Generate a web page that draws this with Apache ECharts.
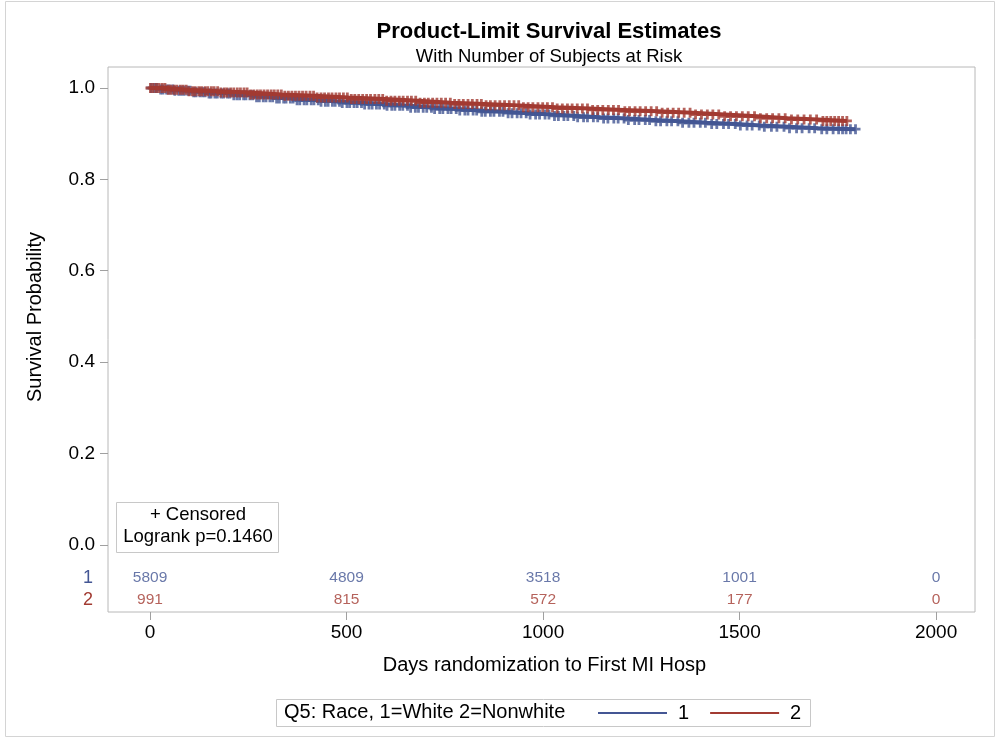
<!DOCTYPE html>
<html>
<head>
<meta charset="utf-8">
<script src="https://cdn.jsdelivr.net/npm/echarts@6/dist/echarts.min.js"></script>
<style>html,body{margin:0;padding:0;background:#fff}#c{width:999px;height:739px}</style>
</head>
<body>
<div id="c"></div>
<script>
// ---- data ----
const xTicks = [0, 500, 1000, 1500, 2000];
const yTicks = [0, 0.2, 0.4, 0.6, 0.8, 1.0];
const riskGroup1 = [5809, 4809, 3518, 1001, 0];
const riskGroup2 = [991, 815, 572, 177, 0];

const g1Times = [0, 25, 62, 105, 150, 205, 262, 318, 372, 430, 488, 545, 602, 660, 722, 780, 842, 905, 962, 1025, 1088, 1145, 1215, 1282, 1350, 1418, 1490, 1556, 1625, 1700, 1795];
const g1Surv  = [1.0, 0.997, 0.994, 0.991, 0.988, 0.984, 0.980, 0.977, 0.973, 0.970, 0.967, 0.964, 0.961, 0.957, 0.954, 0.951, 0.948, 0.945, 0.942, 0.939, 0.936, 0.933, 0.930, 0.927, 0.924, 0.921, 0.918, 0.915, 0.912, 0.910, 0.910];
const g2Times = [0, 40, 98, 175, 255, 335, 418, 505, 598, 682, 765, 852, 940, 1032, 1118, 1205, 1292, 1380, 1462, 1545, 1622, 1700, 1773];
const g2Surv  = [1.0, 0.996, 0.993, 0.990, 0.986, 0.983, 0.979, 0.976, 0.972, 0.968, 0.965, 0.962, 0.958, 0.955, 0.952, 0.949, 0.946, 0.942, 0.938, 0.934, 0.931, 0.928, 0.928];

const g1Censor = [3, 11, 17, 27, 33, 42, 49, 58, 63, 73, 80, 87, 96, 102, 111, 117, 127, 134, 140, 150, 155, 165, 171, 181, 187, 197, 203, 213, 221, 228, 238, 244, 254, 261, 271, 278, 288, 295, 305, 312, 322, 329, 340, 346, 357, 364, 374, 381, 392, 399, 410, 417, 428, 435, 446, 453, 464, 471, 482, 489, 501, 508, 519, 527, 538, 546, 557, 565, 576, 584, 596, 603, 615, 623, 635, 643, 655, 663, 675, 683, 695, 704, 716, 724, 737, 745, 758, 766, 779, 788, 801, 809, 822, 831, 844, 853, 866, 875, 889, 898, 911, 921, 934, 944, 957, 967, 981, 991, 1005, 1015, 1029, 1039, 1053, 1063, 1078, 1088, 1103, 1113, 1128, 1139, 1154, 1165, 1180, 1191, 1206, 1217, 1233, 1244, 1260, 1271, 1287, 1299, 1315, 1327, 1343, 1355, 1371, 1384, 1400, 1413, 1429, 1442, 1459, 1472, 1489, 1502, 1519, 1532, 1550, 1563, 1581, 1595, 1613, 1627, 1645, 1659, 1677, 1691, 1709, 1722, 1738, 1752, 1762, 1771, 1782, 1795];
const g2Censor = [1, 8, 16, 23, 31, 38, 46, 53, 61, 68, 77, 84, 92, 99, 108, 115, 124, 131, 140, 147, 156, 163, 172, 180, 189, 196, 205, 213, 222, 230, 239, 247, 256, 264, 273, 281, 290, 299, 308, 316, 325, 334, 343, 352, 361, 370, 379, 388, 397, 407, 416, 425, 435, 444, 454, 463, 473, 482, 492, 502, 512, 521, 531, 541, 551, 561, 572, 582, 592, 602, 613, 623, 634, 644, 655, 665, 676, 687, 698, 708, 719, 730, 741, 752, 764, 775, 786, 797, 809, 820, 832, 843, 855, 866, 878, 890, 902, 914, 926, 938, 950, 962, 974, 987, 999, 1011, 1024, 1036, 1049, 1062, 1074, 1087, 1100, 1113, 1126, 1139, 1152, 1166, 1179, 1192, 1208, 1220, 1234, 1247, 1261, 1275, 1289, 1303, 1317, 1331, 1345, 1359, 1374, 1388, 1403, 1418, 1432, 1447, 1462, 1477, 1492, 1507, 1522, 1538, 1553, 1569, 1584, 1600, 1616, 1632, 1648, 1664, 1680, 1696, 1712, 1722, 1732, 1742, 1752, 1762, 1773];

const riskRowY = [-0.072, -0.120];
// ---- end data ----

const BLUE = '#445694', RED = '#A23B32';
function survAt(times, surv, t) {
  let s = surv[0];
  for (let i = 0; i < times.length; i++) { if (times[i] <= t) s = surv[i]; else break; }
  return s;
}
const plus = 'path://M5,0L5,10M0,5L10,5';
const chart = echarts.init(document.getElementById('c'), null, {renderer: 'canvas'});
const font = 'Liberation Sans, Arial, sans-serif';

chart.setOption({
  animation: false,
  backgroundColor: '#fff',
  textStyle: {fontFamily: font},
  title: [
    {text: 'Product-Limit Survival Estimates', left: 544, top: 16, textAlign: 'center',
     textStyle: {fontSize: 22, fontWeight: 'bold', color: '#000', fontFamily: font}},
    {text: 'With Number of Subjects at Risk', left: 544, top: 42, textAlign: 'center',
     textStyle: {fontSize: 18.5, fontWeight: 'normal', color: '#000', fontFamily: font}}
  ],
  grid: {left: 108, right: 24, top: 67, bottom: 127, show: true, borderColor: '#b8b8b8', borderWidth: 1, backgroundColor: 'transparent', containLabel: false},
  legend: {
    data: [{name: '1', icon: 'rect'}, {name: '2', icon: 'rect'}], left: 598, top: 703, padding: 0,
    itemWidth: 69, itemHeight: 2, itemGap: 21,
    textStyle: {fontSize: 20, color: '#000', fontFamily: font, padding: [0, 0, 0, 6]},
    selectedMode: false
  },
  xAxis: {
    type: 'value', min: -107, max: 2099,
    name: 'Days randomization to First MI Hosp', nameLocation: 'middle', nameGap: 43,
    nameTextStyle: {fontSize: 20, color: '#000', fontFamily: font, padding: [0, 0, 0, 6]},
    axisLine: {show: false, onZero: false},
    axisTick: {show: true, customValues: xTicks, length: 8, lineStyle: {color: '#a0a0a0'}},
    axisLabel: {customValues: xTicks, fontSize: 19, color: '#000', margin: 11, fontFamily: font, formatter: v => String(v)},
    splitLine: {show: false}
  },
  yAxis: {
    type: 'value', min: -0.147, max: 1.046,
    name: 'Survival Probability', nameLocation: 'middle', nameGap: 63, nameRotate: 90,
    nameTextStyle: {fontSize: 20, color: '#000', fontFamily: font, padding: [0, 0, 0, 45]},
    axisLine: {show: false, onZero: false},
    axisTick: {show: true, customValues: yTicks, length: 8, lineStyle: {color: '#a0a0a0'}},
    axisLabel: {
      customValues: [riskRowY[1], riskRowY[0]].concat(yTicks), fontSize: 19, color: '#000', margin: 13, fontFamily: font,
      formatter: function (v) {
        if (v < -0.09) return '{r|2}';
        if (v < -0.01) return '{b|1}';
        return v.toFixed(1);
      },
      rich: {b: {color: BLUE, fontSize: 18, fontFamily: font, padding: [0, 2, 0, 0]}, r: {color: RED, fontSize: 18, fontFamily: font, padding: [0, 2, 0, 0]}}
    },
    splitLine: {show: false}
  },
  series: [
    {name: '1', type: 'line', step: 'end', symbol: 'none', z: 2,
     lineStyle: {color: BLUE, width: 4}, itemStyle: {color: BLUE},
     data: g1Times.map((t, i) => [t, g1Surv[i]])},
    {name: '1c', type: 'scatter', symbol: plus, symbolSize: 10, z: 3,
     itemStyle: {color: 'rgba(0,0,0,0)', borderColor: BLUE, borderWidth: 2.8},
     data: g1Censor.map(t => [t, survAt(g1Times, g1Surv, t)])},
    {name: '2', type: 'line', step: 'end', symbol: 'none', z: 4,
     lineStyle: {color: RED, width: 4}, itemStyle: {color: RED},
     data: g2Times.map((t, i) => [t, g2Surv[i]])},
    {name: '2c', type: 'scatter', symbol: plus, symbolSize: 10, z: 5,
     itemStyle: {color: 'rgba(0,0,0,0)', borderColor: RED, borderWidth: 2.8},
     data: g2Censor.map(t => [t, survAt(g2Times, g2Surv, t)])},
    {name: 'risk1', type: 'scatter', symbolSize: 0, silent: true,
     label: {show: true, position: 'inside', formatter: p => String(p.value[2]), color: BLUE, fontSize: 15.5, fontFamily: font},
     data: xTicks.map((x, i) => [x, riskRowY[0], riskGroup1[i]])},
    {name: 'risk2', type: 'scatter', symbolSize: 0, silent: true,
     label: {show: true, position: 'inside', formatter: p => String(p.value[2]), color: RED, fontSize: 15.5, fontFamily: font},
     data: xTicks.map((x, i) => [x, riskRowY[1], riskGroup2[i]])}
  ],
  graphic: [
    {type: 'rect', shape: {x: 5.5, y: 1.5, width: 989, height: 735}, style: {fill: 'none', stroke: '#d4d4d4', lineWidth: 1}, silent: true},
    {type: 'rect', shape: {x: 116.5, y: 502.5, width: 162, height: 50}, style: {fill: '#fff', stroke: '#c8c8c8', lineWidth: 1}, z: 10},
    {type: 'text', x: 198, y: 505, z: 11, style: {text: '+ Censored', font: '18.5px ' + font, fill: '#000', textAlign: 'center'}},
    {type: 'text', x: 198, y: 527, z: 11, style: {text: 'Logrank p=0.1460', font: '18.5px ' + font, fill: '#000', textAlign: 'center'}},
    {type: 'rect', shape: {x: 276.5, y: 699.5, width: 534, height: 27}, style: {fill: 'none', stroke: '#c8c8c8', lineWidth: 1}},
    {type: 'text', x: 284, y: 702, style: {text: 'Q5: Race, 1=White 2=Nonwhite', font: '20px ' + font, fill: '#000'}}
  ]
});
</script>
</body>
</html>
